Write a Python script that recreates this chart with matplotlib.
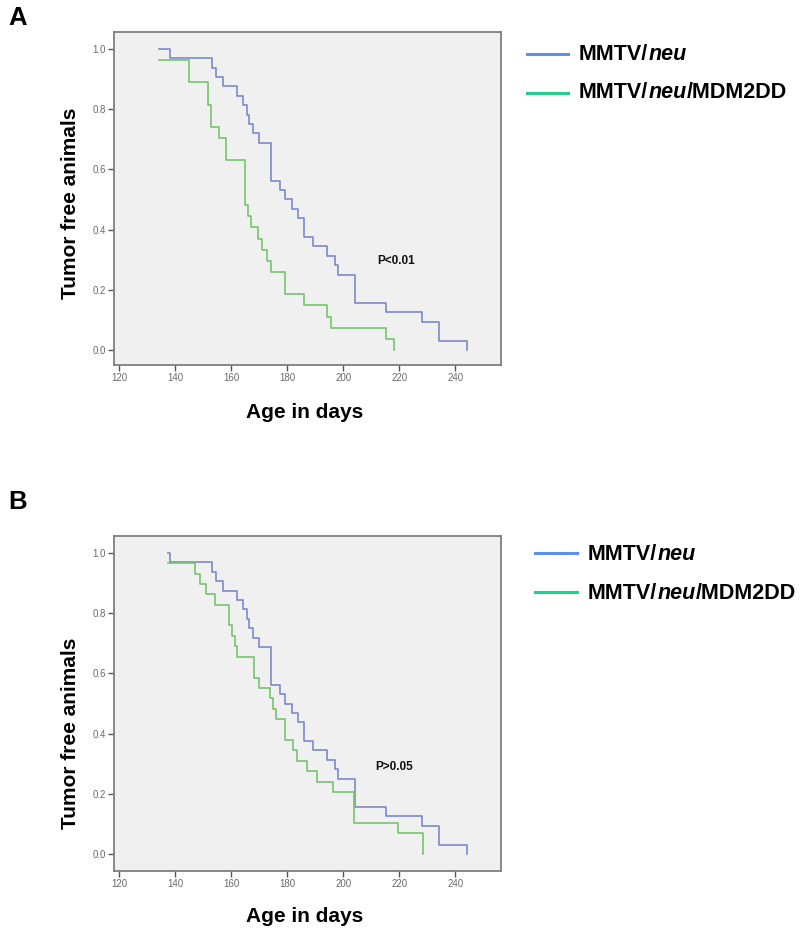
import matplotlib
matplotlib.use("Agg")
import matplotlib.pyplot as plt
from matplotlib.lines import Line2D

plt.rcParams['font.family'] = ['Liberation Sans', 'DejaVu Sans']

# ---------------- data ----------------
# Panel A
a_neu_days = [134.3, 138.1, 153.0, 154.5, 156.9, 162.0, 164.3, 165.5, 166.2, 167.9, 170.0,
              174.1, 177.4, 179.3, 181.6, 183.9, 186.0, 189.3, 194.1, 197.0, 198.2, 204.2,
              215.3, 228.0, 234.3, 244.1]
a_neu_surv = [1.0, 0.969, 0.9375, 0.906, 0.875, 0.844, 0.8125, 0.781, 0.75, 0.719, 0.6875,
              0.5625, 0.531, 0.5, 0.469, 0.4375, 0.375, 0.344, 0.3125, 0.281, 0.25, 0.156,
              0.125, 0.094, 0.031, 0.0]
a_dd_days = [134.3, 145.0, 151.8, 152.7, 155.7, 158.1, 164.9, 165.9, 166.9, 169.6, 171.1,
             172.6, 174.1, 179.2, 186.0, 194.1, 195.6, 215.3, 218.2]
a_dd_surv = [0.963, 0.889, 0.815, 0.741, 0.704, 0.630, 0.481, 0.444, 0.407, 0.370, 0.333,
             0.296, 0.259, 0.185, 0.148, 0.111, 0.074, 0.037, 0.0]

# Panel B
b_neu_days = [137.5, 138.1, 153.0, 154.5, 156.9, 162.0, 164.3, 165.5, 166.2, 167.9, 170.0,
              174.1, 177.4, 179.3, 181.6, 183.9, 186.0, 189.3, 194.1, 197.0, 198.2, 204.2,
              215.3, 228.0, 234.3, 244.1]
b_neu_surv = [1.0, 0.969, 0.9375, 0.906, 0.875, 0.844, 0.8125, 0.781, 0.75, 0.719, 0.6875,
              0.5625, 0.531, 0.5, 0.469, 0.4375, 0.375, 0.344, 0.3125, 0.281, 0.25, 0.156,
              0.125, 0.094, 0.031, 0.0]
b_dd_days = [137.5, 147.0, 148.8, 151.0, 154.2, 159.0, 160.2, 161.3, 162.1, 168.1, 170.0,
             173.8, 175.0, 175.9, 179.3, 182.0, 183.4, 186.9, 190.7, 196.2, 203.8, 219.4, 228.4]
b_dd_surv = [0.966, 0.931, 0.897, 0.862, 0.828, 0.759, 0.724, 0.690, 0.655, 0.586, 0.552,
             0.517, 0.483, 0.448, 0.379, 0.345, 0.310, 0.276, 0.241, 0.207, 0.103, 0.069, 0.0]

x_ticks = [120, 140, 160, 180, 200, 220, 240]
y_ticks = [0.0, 0.2, 0.4, 0.6, 0.8, 1.0]
p_texts = ["P<0.01", "P>0.05"]
panel_labels = ["A", "B"]
series_labels = [("MMTV/", "neu", ""), ("MMTV/", "neu", "/MDM2DD")]

# ---------------- style ----------------
W, H = 800, 933
fig = plt.figure(figsize=(W / 100, H / 100), dpi=100)

curve_blue = '#7c88cc'
curve_green = '#76c46c'
leg_blue = '#5f8ff0'
leg_green = '#22cf8f'
frame_col = '#7f7f7f'


def fx(px):
    return px / W


def fy(py):
    return 1 - py / H


panels = [
    dict(top=32, bottom=365, ylim=(-0.05, 1.056), neu=(a_neu_days, a_neu_surv),
         dd=(a_dd_days, a_dd_surv), p=p_texts[0], ppos=(218.8, 0.296),
         label=panel_labels[0], lab_y=18, leg_y=(54, 93), leg_base=(60.5, 98.5),
         leg_x=(527, 568, 579), xlab_y=413, ylab_y=203),
    dict(top=536, bottom=871, ylim=(-0.056, 1.056), neu=(b_neu_days, b_neu_surv),
         dd=(b_dd_days, b_dd_surv), p=p_texts[1], ppos=(218.3, 0.289),
         label=panel_labels[1], lab_y=502, leg_y=(553, 592), leg_base=(560, 599),
         leg_x=(535, 577, 588), xlab_y=917, ylab_y=733),
]

left_px, right_px = 114, 501
LEG_FS = 15.5

for pn in panels:
    ax = fig.add_axes([fx(left_px), fy(pn['bottom']), (right_px - left_px) / W,
                       (pn['bottom'] - pn['top']) / H])
    ax.set_facecolor('#f0f0f0')
    ax.step(pn['neu'][0], pn['neu'][1], where='post', color=curve_blue, lw=1.2)
    ax.step(pn['dd'][0], pn['dd'][1], where='post', color=curve_green, lw=1.2)
    ax.set_xlim(118.1, 256.3)
    ax.set_ylim(*pn['ylim'])
    ax.set_xticks(x_ticks)
    ax.set_xticklabels([str(t) for t in x_ticks])
    ax.set_yticks(y_ticks)
    ax.set_yticklabels([f"{t:.1f}" for t in y_ticks])
    for s in ax.spines.values():
        s.set_color(frame_col)
        s.set_linewidth(1.3)
    ax.tick_params(axis='both', direction='out', length=4, width=1, color='#555555',
                   labelsize=7, labelcolor='#6a6a6a', pad=2)
    ax.text(pn['ppos'][0], pn['ppos'][1], pn['p'], fontsize=8.5, fontweight='bold',
            ha='center', va='center', color='#111111')

    # axis labels
    fig.text(fx(70.5), fy(pn['ylab_y']), "Tumor free animals",
             rotation=90, fontsize=15, fontweight='bold', ha='center', va='center')
    fig.text(fx(305), fy(pn['xlab_y']), "Age in days", fontsize=15, fontweight='bold',
             ha='center', va='center')
    # panel label
    fig.text(fx(18), fy(pn['lab_y']), pn['label'], fontsize=18.5, fontweight='bold',
             ha='center', va='center')

    # legend
    x0, x1, xt = pn['leg_x']
    for (row_y, base_y, col, parts) in zip(pn['leg_y'], pn['leg_base'],
                                           [leg_blue, leg_green], series_labels):
        fig.add_artist(Line2D([fx(x0), fx(x1)], [fy(row_y), fy(row_y)], color=col, lw=2.2,
                              transform=fig.transFigure))
        t = fig.text(fx(xt), fy(base_y), parts[0], fontsize=LEG_FS, fontweight='bold',
                     ha='left', va='baseline')
        t3 = plt.annotate(parts[1], xy=(1, 0), xycoords=t, fontsize=LEG_FS,
                          fontweight='bold', fontstyle='italic', ha='left', va='bottom',
                          annotation_clip=False)
        if parts[2]:
            plt.annotate(parts[2], xy=(1, 0), xycoords=t3, fontsize=LEG_FS,
                         fontweight='bold', ha='left', va='bottom', annotation_clip=False)

fig.savefig("out.png", dpi=100)
